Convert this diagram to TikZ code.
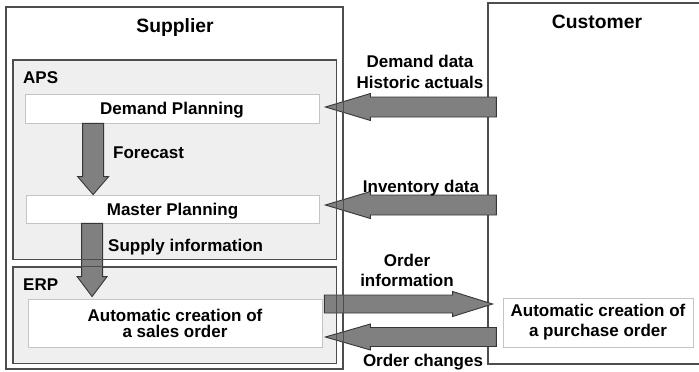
\documentclass[tikz,border=0pt]{standalone}
\usepackage{fontspec}
\setmainfont{Liberation Sans}
\usepackage{tikz}
\usetikzlibrary{calc,positioning}

\definecolor{framegray}{HTML}{4D4D4D}
\definecolor{panelgray}{HTML}{EFEFEF}
\definecolor{fieldgray}{HTML}{C4C4C4}
\definecolor{arrowfill}{HTML}{808080}
\definecolor{arrowline}{HTML}{363636}

\newcommand{\txtfont}{\fontsize{17}{20}\selectfont\bfseries}
\newcommand{\titlefont}{\fontsize{19.3}{23}\selectfont\bfseries}

\tikzset{
  frame/.style={draw=framegray, line width=1.2pt, inner sep=0pt},
  panel/.style={draw=framegray, fill=panelgray, line width=1pt, inner sep=0pt},
  field/.style={draw=fieldgray, fill=white, line width=0.8pt, inner sep=0pt, align=center, font=\txtfont},
  title/.style={font=\titlefont, inner sep=0pt, anchor=base},
  txt/.style={font=\txtfont, inner sep=0pt},
  % #1 half shaft, #2 half head, #3 head length
  blockarrow/.style n args={3}{draw=arrowline, fill=arrowfill, line width=0.9pt, line join=miter,
    to path={($(\tikztostart)!#1!90:(\tikztotarget)$)
      -- ($(\tikztotarget)!#3!(\tikztostart)!#1!-90:(\tikztostart)$)
      -- ($(\tikztotarget)!#3!(\tikztostart)!#2!-90:(\tikztostart)$)
      -- (\tikztotarget)
      -- ($(\tikztotarget)!#3!(\tikztostart)!#2!90:(\tikztostart)$)
      -- ($(\tikztotarget)!#3!(\tikztostart)!#1!90:(\tikztostart)$)
      -- ($(\tikztostart)!#1!-90:(\tikztotarget)$) -- cycle}},
}

\begin{document}
\begin{tikzpicture}[x=1pt, y=-1pt]
        \clip (0,0) rectangle (699,372);
        % frames
        \node[frame, minimum width=337pt, minimum height=362pt] (sup) at (174.5,188) {};
        \node[frame, minimum width=232pt, minimum height=361pt] (cust) at (604,183.5) {};
        \node[panel, minimum width=323pt, minimum height=199pt] (aps) at (174.5,159.5) {};
        \node[panel, minimum width=323pt, minimum height=96pt] (erp) at (174.5,315) {};
        % boxes
        \node[field, minimum width=294pt, minimum height=29pt, text height=12pt, text depth=0pt] (dp) at (172,108.5) {Demand Planning};
        \node[field, minimum width=293pt, minimum height=28pt, text height=12pt, text depth=0pt] (mp) at (172.5,209) {Master Planning};
        \node[field, minimum width=294pt, minimum height=48pt, font=\fontsize{17}{16}\selectfont\bfseries] (so) at (175,323) {Automatic creation of\\a sales order};
        \node[field, minimum width=190pt, minimum height=49pt] (po) at (598,322.5) {Automatic creation of\\a purchase order};
        % arrow ends
        \coordinate (fctail) at ($(dp.south west)+(68.5,0)$);
        \coordinate (fctip) at (fctail |- mp.north);
        \coordinate (sitail) at ($(mp.south west)+(66.5,0)$);
        \coordinate (sitip) at ($(sitail |- so.north)+(0,-2)$);
        \coordinate (ddtip) at ($(dp.east)+(6,-1.5)$);
        \coordinate (ddtail) at ($(cust.west |- ddtip)+(9,0)$);
        \coordinate (invtip) at ($(mp.east)+(6,-4)$);
        \coordinate (invtail) at ($(cust.west |- invtip)+(9,0)$);
        \coordinate (oitail) at ($(so.east)+(2,-19)$);
        \coordinate (oitip) at ($(po.west |- oitail)+(-10,0)$);
        \coordinate (octip) at ($(so.east)+(3,14)$);
        \coordinate (octail) at ($(cust.west |- octip)+(9,0)$);
        % arrows
        \draw[blockarrow={10.5pt}{15.5pt}{18pt}] (fctail) to (fctip);
        \draw[blockarrow={10.5pt}{15pt}{20pt}] (sitail) to (sitip);
        \draw[blockarrow={10pt}{13.5pt}{45pt}] (ddtail) to (ddtip);
        \draw[blockarrow={10pt}{13.5pt}{45pt}] (invtail) to (invtip);
        \draw[blockarrow={9pt}{12.5pt}{40pt}] (oitail) to (oitip);
        \draw[blockarrow={9.5pt}{13pt}{45pt}] (octail) to (octip);
        % outlines over the arrows
        \foreach \n/\w in {sup/1.2pt, aps/1pt, erp/1pt}
          \draw[draw=framegray, line width=\w] (\n.south west) rectangle (\n.north east);
        % labels
        \node[title] (suptitle) at (175,32) {Supplier};
        \node[title] (custtitle) at (597,28) {Customer};
        \node[txt, anchor=base west] (apslbl) at (23,83) {APS};
        \node[txt, anchor=base west] (erplbl) at (23,290) {ERP};
        \node[txt, anchor=base west] (fclbl) at (113,158) {Forecast};
        \node[txt, anchor=base west] (silbl) at (108,251.7) {Supply information};
        \node[txt, align=center, font=\fontsize{17}{21}\selectfont\bfseries] (ddlbl) at (420,72.3) {Demand data\\Historic actuals};
        \node[txt, anchor=base] (invlbl) at (421,192.7) {Inventory data};
        \node[txt, align=center] (oilbl) at (407,270.5) {Order\\information};
        \node[txt, anchor=base] (oclbl) at (423,366) {Order changes};
\end{tikzpicture}
\end{document}
